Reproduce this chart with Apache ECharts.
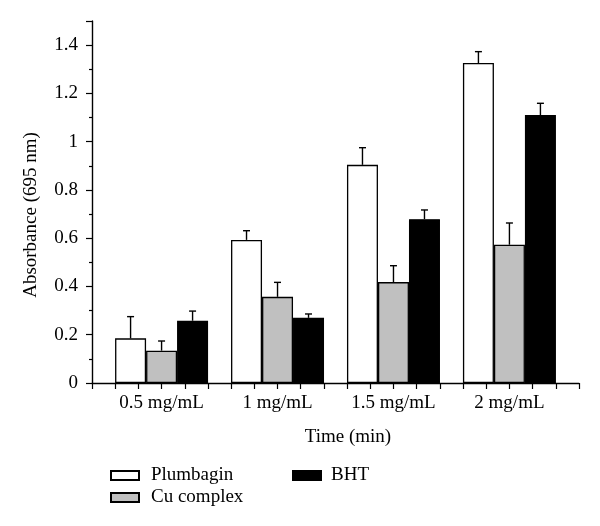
<!DOCTYPE html>
<html>
<head>
<meta charset="utf-8">
<script src="https://cdn.jsdelivr.net/npm/echarts@6/dist/echarts.min.js"></script>
<style>html,body{margin:0;padding:0;background:#fff}#c{width:600px;height:526px}</style>
</head>
<body>
<div id="c"></div>
<script>
var categories = ['0.5 mg/mL', '1 mg/mL', '1.5 mg/mL', '2 mg/mL'];
var seriesNames = ['Plumbagin', 'Cu complex', 'BHT'];
var plumbagin = [0.185, 0.593, 0.904, 1.326];
var plumbaginErr = [0.090, 0.038, 0.071, 0.047];
var cuComplex = [0.134, 0.357, 0.418, 0.573];
var cuComplexErr = [0.040, 0.060, 0.068, 0.090];
var bht = [0.258, 0.270, 0.679, 1.110];
var bhtErr = [0.040, 0.016, 0.038, 0.049];
var yTicks = [0, 0.2, 0.4, 0.6, 0.8, 1, 1.2, 1.4];

var FONT = '"Liberation Serif", "DejaVu Serif", serif';
var FS = 19;
var BAR_W = 31;
var colors = ['#ffffff', '#c0c0c0', '#000000'];
var values = [plumbagin, cuComplex, bht];
var errs = [plumbaginErr, cuComplexErr, bhtErr];

function barData(arr) {
  return arr.map(function (v, i) { return [i + 1, v]; });
}
function errData(arr, err) {
  return arr.map(function (v, i) { return [i + 1, v, v + err[i]]; });
}

var series = [];
seriesNames.forEach(function (name, k) {
  series.push({
    name: name,
    type: 'bar',
    barWidth: BAR_W,
    barGap: '0%',
    data: barData(values[k]),
    itemStyle: { color: colors[k], borderColor: '#000', borderWidth: 1.3 },
    emphasis: { disabled: true },
    z: 2
  });
});
seriesNames.forEach(function (name, k) {
  var offset = (k - 1) * BAR_W;
  series.push({
    type: 'custom',
    name: name + ' err',
    data: errData(values[k], errs[k]),
    z: 3,
    renderItem: function (params, api) {
      var x = api.value(0);
      var lo = api.coord([x, api.value(1)]);
      var hi = api.coord([x, api.value(2)]);
      var cx = lo[0] + offset;
      var cap = 3.5;
      var st = { stroke: '#000', lineWidth: 1.4 };
      return {
        type: 'group',
        children: [
          { type: 'line', shape: { x1: cx, y1: lo[1], x2: cx, y2: hi[1] }, style: st },
          { type: 'line', shape: { x1: cx - cap, y1: hi[1], x2: cx + cap, y2: hi[1] }, style: st }
        ]
      };
    }
  });
});

var chart = echarts.init(document.getElementById('c'), null, { renderer: 'canvas' });
chart.setOption({
  animation: false,
  backgroundColor: '#fff',
  grid: { left: 92, right: 21, top: 21, bottom: 143 },
  legend: [
    {
      data: ['Plumbagin', 'Cu complex'],
      orient: 'vertical',
      left: 105, top: 461,
      icon: 'rect',
      itemWidth: 28, itemHeight: 9, itemGap: 3,
      textStyle: { fontFamily: FONT, fontSize: FS, color: '#000', padding: [0, 0, 0, 7] },
      selectedMode: false
    },
    {
      data: ['BHT'],
      orient: 'vertical',
      left: 287, top: 461,
      icon: 'rect',
      itemWidth: 28, itemHeight: 9,
      textStyle: { fontFamily: FONT, fontSize: FS, color: '#000', padding: [0, 0, 0, 5] },
      selectedMode: false
    }
  ],
  xAxis: {
    type: 'value',
    min: 0.4, max: 4.6, interval: 0.2,
    splitLine: { show: false },
    axisLine: { show: true, onZero: false, lineStyle: { color: '#000', width: 1.4 } },
    axisTick: { show: true, inside: false, length: 6, lineStyle: { color: '#000', width: 1.2 } },
    axisLabel: {
      margin: 11,
      fontFamily: FONT, fontSize: FS, color: '#000',
      showMinLabel: true, showMaxLabel: true,
      formatter: function (v) {
        var r = Math.round(v);
        if (Math.abs(v - r) < 1e-6 && r >= 1 && r <= categories.length) return categories[r - 1];
        return '';
      }
    }
  },
  yAxis: {
    type: 'value',
    min: 0, max: 1.5, interval: 0.2,
    splitLine: { show: false },
    axisLine: { show: true, lineStyle: { color: '#000', width: 1.4 } },
    axisTick: { show: true, inside: false, length: 6, lineStyle: { color: '#000', width: 1.2 } },
    minorTick: { show: true, splitNumber: 2, length: 3, lineStyle: { color: '#000', width: 1.2 } },
    axisLabel: {
      margin: 14,
      fontFamily: FONT, fontSize: FS, color: '#000',
      showMaxLabel: false,
      formatter: function (v) {
        for (var i = 0; i < yTicks.length; i++) {
          if (Math.abs(v - yTicks[i]) < 1e-6) return String(yTicks[i]);
        }
        return '';
      }
    }
  },
  graphic: [
    {
      type: 'text',
      x: 31, y: 215,
      rotation: Math.PI / 2,
      style: {
        text: 'Absorbance (695 nm)',
        fontFamily: FONT, fontSize: FS, fill: '#000',
        align: 'center', verticalAlign: 'middle'
      }
    },
    {
      type: 'text',
      x: 348, y: 437,
      style: {
        text: 'Time (min)',
        fontFamily: FONT, fontSize: FS, fill: '#000',
        align: 'center', verticalAlign: 'middle'
      }
    }
  ],
  series: series
});
</script>
</body>
</html>
